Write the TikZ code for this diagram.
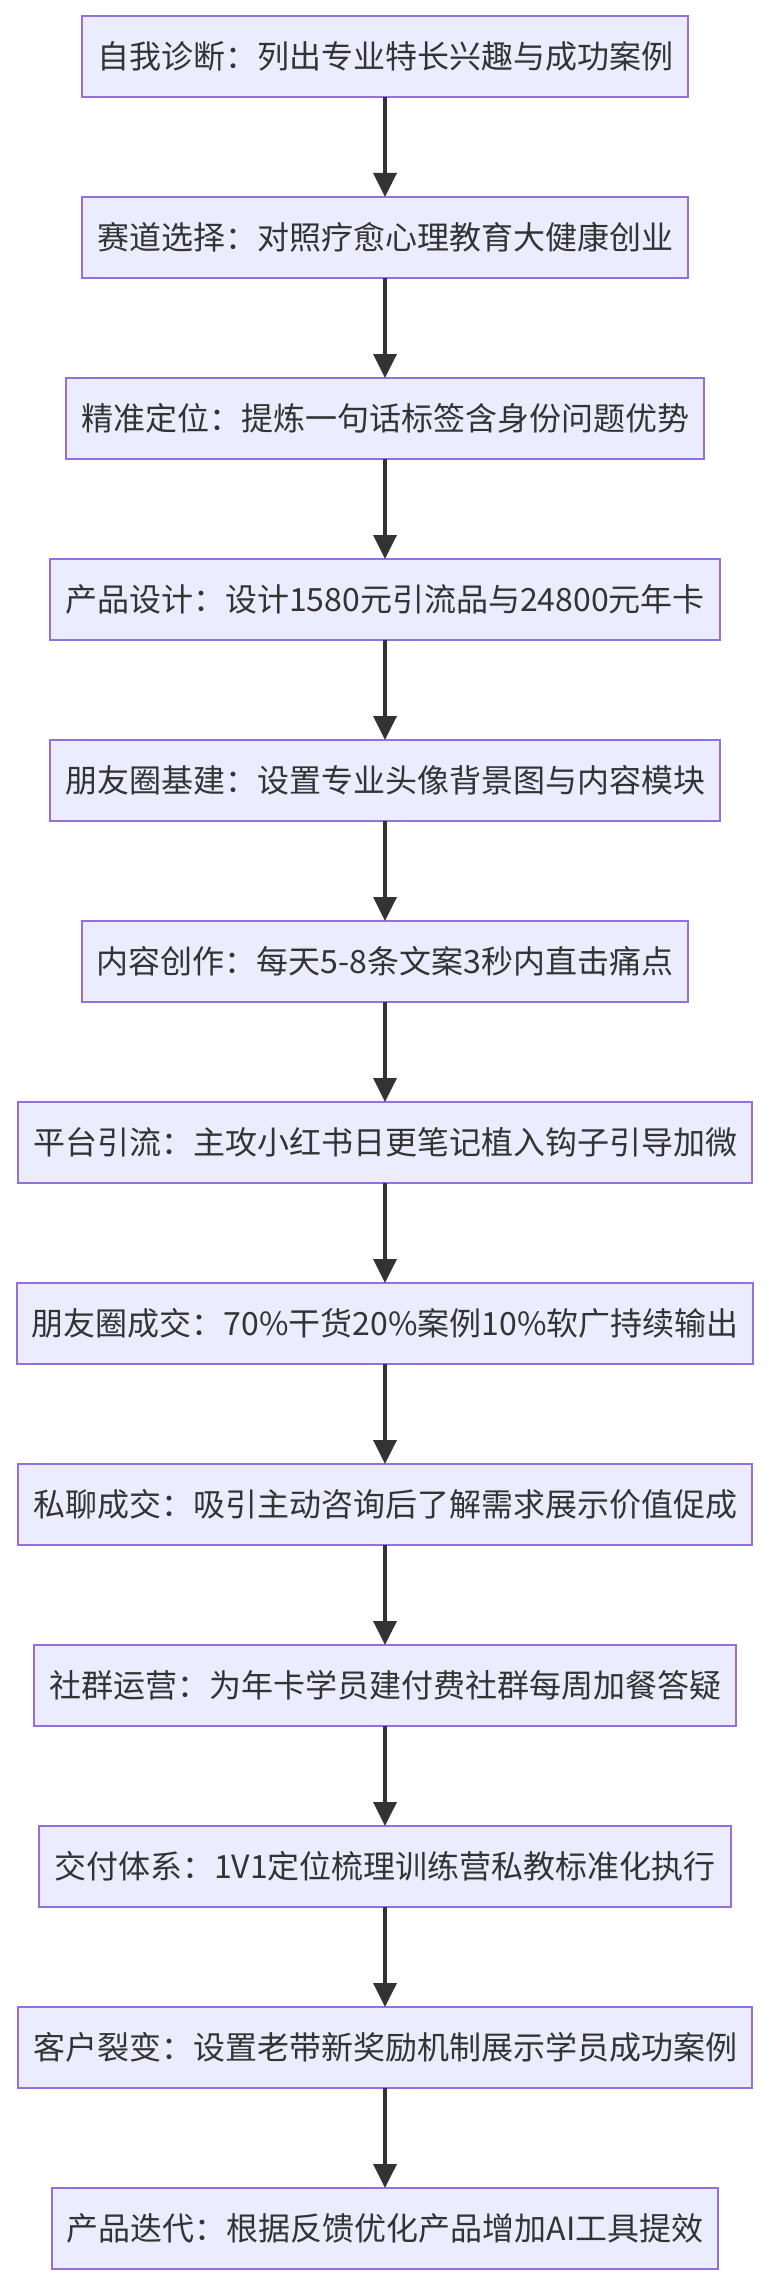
\documentclass[tikz,border=0pt]{standalone}
\usepackage{fontspec}
\newfontfamily\cjk{Noto Sans CJK SC}
\usetikzlibrary{arrows.meta}
\definecolor{boxfill}{HTML}{ECECFF}
\definecolor{boxline}{HTML}{9370DB}
\definecolor{ink}{HTML}{333333}

\begin{document}
\begin{tikzpicture}[x=1pt,y=1pt,
        stepbox/.style={draw=boxline, fill=boxfill, line width=1pt, minimum height=40.5pt,
            inner xsep=7.5pt, outer sep=0pt, text=ink, font=\cjk\fontsize{16pt}{19pt}\selectfont},
        flow/.style={draw=ink, line width=1.8pt, -{Triangle[length=12pt,width=11.5pt]}}]
        \useasboundingbox (0,0) rectangle (384,-1145);
        \foreach \t [count=\i] in {自我诊断：列出专业特长兴趣与成功案例,
                赛道选择：对照疗愈心理教育大健康创业,
                精准定位：提炼一句话标签含身份问题优势,
                产品设计：设计1580元引流品与24800元年卡,
                朋友圈基建：设置专业头像背景图与内容模块,
                内容创作：每天5-8条文案3秒内直击痛点,
                平台引流：主攻小红书日更笔记植入钩子引导加微,
                朋友圈成交：70\%干货20\%案例10\%软广持续输出,
                私聊成交：吸引主动咨询后了解需求展示价值促成,
                社群运营：为年卡学员建付费社群每周加餐答疑,
                交付体系：1V1定位梳理训练营私教标准化执行,
                客户裂变：设置老带新奖励机制展示学员成功案例,
                产品迭代：根据反馈优化产品增加AI工具提效} {
            \node[stepbox] (s\i) at (192.5,{-28.25-(\i-1)*90.5}) {\t};
        }
        \foreach \i [count=\j from 2] in {1,...,12} {
            \draw[flow] (s\i) -- (s\j);
        }
    \end{tikzpicture}
\end{document}
